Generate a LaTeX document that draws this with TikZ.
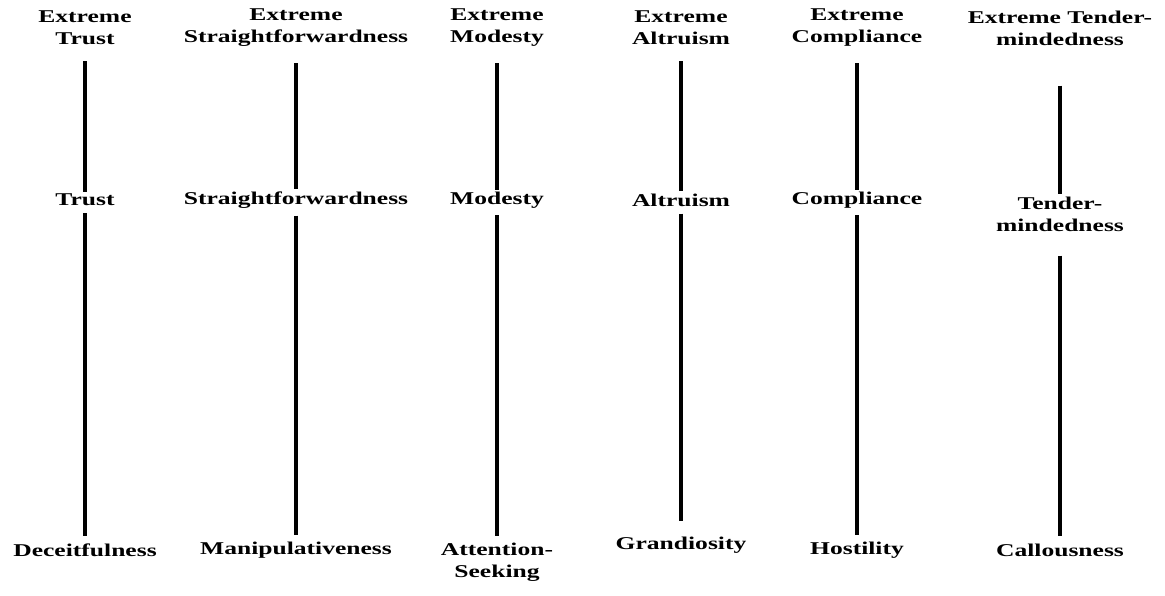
\documentclass[tikz,border=0pt]{standalone}
\usepackage{fontspec}
\setmainfont{Liberation Serif}[FakeStretch=1.42]
\usetikzlibrary{positioning}

\begin{document}
\begin{tikzpicture}[x=1pt,y=-1pt,
    every node/.style={align=center,font=\fontsize{18}{22}\selectfont\bfseries,inner sep=2pt},
    bar/.style={line width=3.6pt},
    node distance=172pt]
  \useasboundingbox (0,0) rectangle (1165,596);

  \node (11) at (85,28) {Extreme\\Trust};
  \node (12) [below of=11] {Trust};
  \node (13) [below of=12, node distance=350pt] {Deceitfulness};

  \node (21) at (296,28) {Extreme\\Straightforwardness};
  \node (22) [below of=21] {Straightforwardness};
  \node (23) [below of=22, node distance=350pt] {Manipulativeness};

  \node (31) at (497,28) {Extreme\\Modesty};
  \node (32) [below of=31] {Modesty};
  \node (33) [below of=32, node distance=362pt] {Attention-\\Seeking};

  \node (41) at (681,28) {Extreme\\Altruism};
  \node (42) [below of=41] {Altruism};
  \node (43) [below of=42, node distance=345pt] {Grandiosity};

  \node (51) at (857,28) {Extreme\\Compliance};
  \node (52) [below of=51] {Compliance};
  \node (53) [below of=52, node distance=350pt] {Hostility};

  \node (61) at (1060,28) {Extreme Tender-\\mindedness};
  \node (62) [below of=61, node distance=186pt] {Tender-\\mindedness};
  \node (63) [below of=62, node distance=336pt] {Callousness};

  \draw[bar, shorten <=14pt] (11) -- (12);
  \draw[bar, shorten <=5pt, shorten >=5pt] (12) -- (13);
  \draw[bar, shorten <=14pt] (21) -- (22);
  \draw[bar, shorten <=5pt, shorten >=5pt] (22) -- (23);
  \draw[bar, shorten <=14pt] (31) -- (32);
  \draw[bar, shorten <=5pt, shorten >=5pt] (32) -- (33);
  \draw[bar, shorten <=14pt] (41) -- (42);
  \draw[bar, shorten <=5pt, shorten >=14pt] (42) -- (43);
  \draw[bar, shorten <=14pt] (51) -- (52);
  \draw[bar, shorten <=5pt, shorten >=5pt] (52) -- (53);
  \draw[bar, shorten <=38pt] (61) -- (62);
  \draw[bar, shorten <=22pt, shorten >=5pt] (62) -- (63);
\end{tikzpicture}
\end{document}
